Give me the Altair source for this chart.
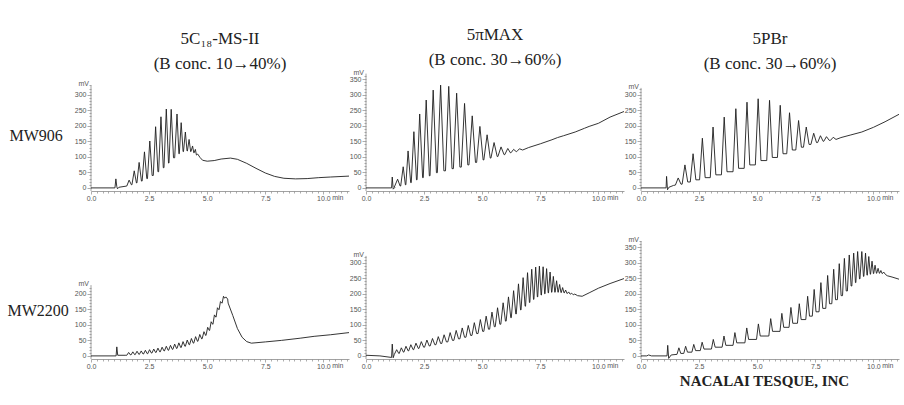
import altair as alt
import pandas as pd

# ---------------- text ----------------
COLUMN_TITLES = [["5C₁₈-MS-II", "(B conc. 10→40%)"],
                 ["5πMAX", "(B conc. 30→60%)"],
                 ["5PBr", "(B conc. 30→60%)"]]
ROW_LABELS = ["MW906", "MW2200"]
CREDIT = "NACALAI TESQUE, INC"
Y_UNIT = "mV"
X_UNIT = "min"

# ---------------- axes ----------------
X_DOMAIN = [0, 11.1]
Y_DOMAIN = [-10, 370]
X_MAJOR_STEP = 2.5
X_MINOR_STEP = 0.25
X_UNIT_POS = 10.6
Y_MAJOR_STEP = 50
Y_MINOR_STEP = 10
AXIS_TOPS = [330, 368, 322, 228, 322, 370]   # mV at the top end of each y axis

# ---------------- chromatograms ----------------
# Panel 1: 5C18-MS-II, MW906
HEAD1 = [(0, 0), (1.03, 0), (1.07, 29), (1.11, 4), (1.14, -3), (1.2, 2)]
P1_T = [1.64, 1.86, 2.07, 2.30, 2.53, 2.78, 3.01, 3.24, 3.45, 3.70, 3.88, 4.06, 4.22, 4.37, 4.49, 4.59]
P1_H = [25, 55, 82, 116, 151, 197, 229, 254, 253, 238, 210, 180, 156, 135, 124, 109]
P1_V = [6, 10, 16, 22, 30, 40, 52, 65, 80, 97, 110, 117, 119, 117, 113, 106, 98]
TAIL1 = [(4.8, 89), (5.0, 86), (5.3, 88), (5.6, 93), (6.0, 96), (6.3, 92), (6.7, 79), (7.1, 63),
         (7.5, 48), (7.9, 37), (8.3, 31), (8.8, 29), (9.3, 30), (9.8, 33), (10.3, 35), (11.1, 38)]

# Panel 2: 5piMAX, MW906
HEAD2 = [(0, 0), (1.1, 0), (1.13, 35), (1.17, -4), (1.25, 2)]
P2_T = [1.36, 1.60, 1.81, 2.06, 2.31, 2.59, 2.89, 3.21, 3.56, 3.90, 4.24, 4.57, 4.90, 5.21, 5.51, 5.81, 6.10, 6.35, 6.60]
P2_H = [28, 68, 119, 181, 238, 283, 315, 331, 327, 305, 272, 232, 198, 171, 146, 132, 127, 124, 126]
P2_V = [3, 6, 10, 17, 26, 33, 39, 49, 55, 62, 67, 74, 82, 90, 96, 101, 107, 113, 117, 122]
TAIL2 = [(7.0, 130), (7.5, 142), (8.0, 155), (8.24, 162), (8.5, 168), (9.0, 180), (9.4, 192),
         (9.6, 198), (10.0, 208), (10.5, 228), (11.1, 246)]

# Panel 3: 5PBr, MW906
HEAD3 = [(0, 0), (1.08, 0), (1.1, 37), (1.14, -6), (1.2, 2), (1.4, 8)]
P3_T = [1.60, 1.89, 2.24, 2.64, 3.10, 3.58, 4.08, 4.56, 5.04, 5.53, 5.99, 6.39, 6.78, 7.11, 7.43, 7.72, 7.98, 8.27]
P3_H = [32, 74, 110, 160, 196, 228, 255, 276, 287, 282, 266, 242, 217, 196, 176, 168, 165, 163]
P3_V = [9, 12, 19, 26, 33, 42, 52, 63, 74, 88, 98, 110, 122, 131, 140, 146, 150, 153, 156]
TAIL3 = [(8.6, 162), (9.0, 170), (9.5, 180), (10.0, 195), (10.5, 213), (11.1, 237)]

# Panel 4: 5C18-MS-II, MW2200
HEAD4 = [(0, 0), (1.08, 0), (1.11, 29), (1.15, 2), (1.5, 2)]
P4_T = [1.62, 1.80, 1.98, 2.16, 2.34, 2.52, 2.70, 2.88, 3.06, 3.24, 3.42, 3.60, 3.78, 3.96, 4.14,
        4.32, 4.50, 4.68, 4.86, 5.02, 5.17, 5.31, 5.44, 5.57, 5.70, 5.80]
P4_H = [11, 13, 15, 16, 18, 20, 22, 25, 28, 31, 34, 38, 42, 46, 51, 56, 62, 69, 78, 92, 110, 132, 155, 175, 192, 190]
P4_V = [2, 3, 4, 5, 6, 7, 9, 11, 13, 16, 18, 21, 24, 27, 31, 36, 41, 47, 55, 66, 82, 102, 125, 149, 170, 186, 183]
TAIL4 = [(5.9, 170), (6.1, 130), (6.3, 88), (6.5, 60), (6.7, 46), (6.9, 41), (7.5, 45), (8.2, 50),
         (9.0, 57), (9.6, 63), (10.3, 68), (11.1, 75)]

# Panel 5: 5piMAX, MW2200
HEAD5 = [(0, 2), (0.6, 0), (1.1, -5), (1.13, 38), (1.17, -6), (1.22, 5)]
P5_T = [1.32, 1.52, 1.72, 1.93, 2.15, 2.38, 2.62, 2.86, 3.11, 3.36, 3.62, 3.88, 4.14, 4.40, 4.66,
        4.92, 5.17, 5.42, 5.66, 5.90, 6.13, 6.35, 6.56, 6.76, 6.95, 7.13, 7.30, 7.46, 7.62, 7.77,
        7.92, 8.06, 8.20, 8.33, 8.46, 8.59, 8.72, 8.85, 8.98]
P5_H = [20, 26, 31, 36, 41, 46, 51, 56, 62, 68, 75, 82, 90, 98, 107, 117, 128, 141, 155, 171,
        190, 210, 232, 252, 268, 279, 286, 289, 287, 281, 270, 256, 242, 230, 220, 212, 206, 202, 199]
P5_V = [5, 8, 12, 16, 20, 24, 28, 32, 36, 40, 45, 50, 55, 60, 66, 72, 79, 86, 94, 102,
        112, 123, 135, 148, 160, 172, 182, 190, 196, 200, 203, 205, 205, 205, 204, 203, 201, 199, 197, 195]
TAIL5 = [(9.1, 194), (9.3, 192), (9.6, 203), (10.0, 218), (10.5, 233), (11.1, 249)]

# Panel 6: 5PBr, MW2200
HEAD6 = [(0, 0), (0.25, 0), (0.33, 3), (0.45, 0), (1.12, 0), (1.15, 34), (1.19, -8), (1.3, 3)]
P6_T = [1.63, 1.92, 2.27, 2.63, 3.11, 3.57, 4.04, 4.55, 5.05, 5.58, 6.06, 6.45, 6.81, 7.17, 7.45,
        7.74, 8.03, 8.29, 8.53, 8.75, 8.96, 9.15, 9.32, 9.50, 9.66, 9.80, 9.94, 10.07, 10.20, 10.32, 10.44]
P6_H = [26, 31, 37, 44, 53, 64, 75, 90, 103, 120, 137, 156, 168, 192, 214, 236, 259, 279, 297, 314,
        325, 331, 336, 336, 331, 320, 305, 292, 282, 275, 270]
P6_V = [5, 8, 12, 17, 22, 28, 34, 42, 53, 64, 79, 92, 105, 117, 128, 142, 153, 168, 181, 194,
        209, 225, 236, 248, 256, 260, 263, 265, 266, 266, 265, 262]
TAIL6 = [(10.6, 258), (10.8, 254), (11.1, 247)]

# peak half-widths at the base (minutes) - drawing style
HALF_WIDTHS = [0.1, 0.14, 0.12, 0.08, 0.1, 0.08]

TRACES = [(HEAD1, P1_T, P1_H, P1_V, TAIL1), (HEAD2, P2_T, P2_H, P2_V, TAIL2),
          (HEAD3, P3_T, P3_H, P3_V, TAIL3), (HEAD4, P4_T, P4_H, P4_V, TAIL4),
          (HEAD5, P5_T, P5_H, P5_V, TAIL5), (HEAD6, P6_T, P6_H, P6_V, TAIL6)]

# ---------------- style ----------------
W, H = 258, 118
AX = "#8a8a8a"
LAB = "#555555"
INK = "#1e1e1e"
SANS = "Liberation Sans"
SERIF = "Liberation Serif"


def build(head, pt, ph, pv, tail, hw):
    pts = list(head)
    n = len(pt)
    for i in range(n):
        left = hw if i == 0 else min(hw, 0.45 * (pt[i] - pt[i - 1]))
        right = hw if i == n - 1 else min(hw, 0.45 * (pt[i + 1] - pt[i]))
        pts.append((pt[i] - left, pv[i]))
        pts.append((pt[i], ph[i]))
        pts.append((pt[i] + right, pv[i + 1]))
    pts.extend(tail)
    df = pd.DataFrame(pts, columns=["t", "v"])
    df["k"] = range(len(df))
    return df


x_vals = [X_MINOR_STEP * k for k in range(int(round(11.0 / X_MINOR_STEP)) + 1)] + [X_UNIT_POS]
unit_test = f"datum.value > {X_UNIT_POS - 0.03} && datum.value < {X_UNIT_POS + 0.03}"


def panel(i):
    row, col = divmod(i, 3)
    head, pt, ph, pv, tail = TRACES[i]
    df = build(head, pt, ph, pv, tail, HALF_WIDTHS[i])
    top = AXIS_TOPS[i]
    y_vals = list(range(0, top + 1, Y_MINOR_STEP))

    ykw = dict(
        values=y_vals, domain=False, grid=False,
        tickColor=AX, tickWidth=0.7,
        tickSize={"condition": {"test": f"datum.value % {Y_MAJOR_STEP} === 0", "value": 4}, "value": 2},
        labelExpr=f"datum.value % {Y_MAJOR_STEP} === 0 ? datum.label : ''",
        labelFont=SANS, labelFontSize=7, labelColor=LAB, labelPadding=1, labelOverlap=False,
    )
    if col == 0:
        ykw.update(title=ROW_LABELS[row], titleAngle=0, titleAlign="left", titleBaseline="middle",
                   titleX=-82 if row == 0 else -84, titleY=62 if row == 0 else 69,
                   titleFont=SERIF, titleFontSize=16,
                   titleFontWeight="normal", titleColor="#222222")
    else:
        ykw.update(title=None)
    y_axis = alt.Axis(**ykw)

    xkw = dict(
        values=x_vals, grid=False, domainColor=AX, domainWidth=0.8,
        tickColor=AX, tickWidth=0.7,
        tickSize={"condition": {"test": f"datum.value % {X_MAJOR_STEP} === 0", "value": 3}, "value": 2},
        tickOpacity={"condition": {"test": unit_test, "value": 0}, "value": 1},
        labelExpr=f"{unit_test} ? '{X_UNIT}' : (datum.value % {X_MAJOR_STEP} === 0 ? format(datum.value, '.1f') : '')",
        labelFont=SANS, labelFontSize=7, labelColor=LAB, labelPadding=0,
        labelOverlap=False, labelFlush=False,
    )
    if i == 5:
        xkw.update(title=CREDIT, titleFont=SERIF, titleFontSize=15, titleFontWeight="bold",
                   titleColor="#222222", titleX=123, titleY=21, titleAlign="center",
                   titleBaseline="middle")
    else:
        xkw.update(title=None)
    x_axis = alt.Axis(**xkw)

    xs = alt.Scale(domain=X_DOMAIN, nice=False, zero=False)
    ys = alt.Scale(domain=Y_DOMAIN, nice=False, zero=False)
    X = alt.X("t:Q", scale=xs, axis=x_axis)
    Y = alt.Y("v:Q", scale=ys, axis=y_axis)

    axis_line = alt.Chart(pd.DataFrame({"v": [Y_DOMAIN[0]], "v2": [top]})).mark_rule(
        color=AX, strokeWidth=0.8
    ).encode(x=alt.value(0), y=Y, y2="v2:Q")

    unit = alt.Chart(pd.DataFrame({"t": [0.0], "v": [top]})).mark_text(
        align="right", baseline="bottom", dx=-2, dy=2, fontSize=7, font=SANS, color=LAB
    ).encode(x=X, y=Y, text=alt.value(Y_UNIT))

    line = alt.Chart(df).mark_line(color=INK, strokeWidth=0.9).encode(
        x=X, y=Y, order="k:Q"
    )

    ch = alt.layer(axis_line, line, unit).properties(width=W, height=H)
    if row == 0:
        ch = ch.properties(title=alt.TitleParams(
            text=COLUMN_TITLES[col], frame="group", anchor="middle", orient="top",
            offset=0, font=SERIF, fontSize=17, fontWeight="normal", color="#222222",
            lineHeight=25
        ))
    return ch


panels = [panel(i) for i in range(6)]

chart = alt.concat(*panels, columns=3, spacing={"row": 50, "column": 17}, bounds="flush").properties(
    padding={"left": 7, "top": 25, "right": 0, "bottom": 0},
    background="white",
).configure_view(stroke=None)

chart.save("out.html", embed_options={"renderer": "svg", "actions": False})
